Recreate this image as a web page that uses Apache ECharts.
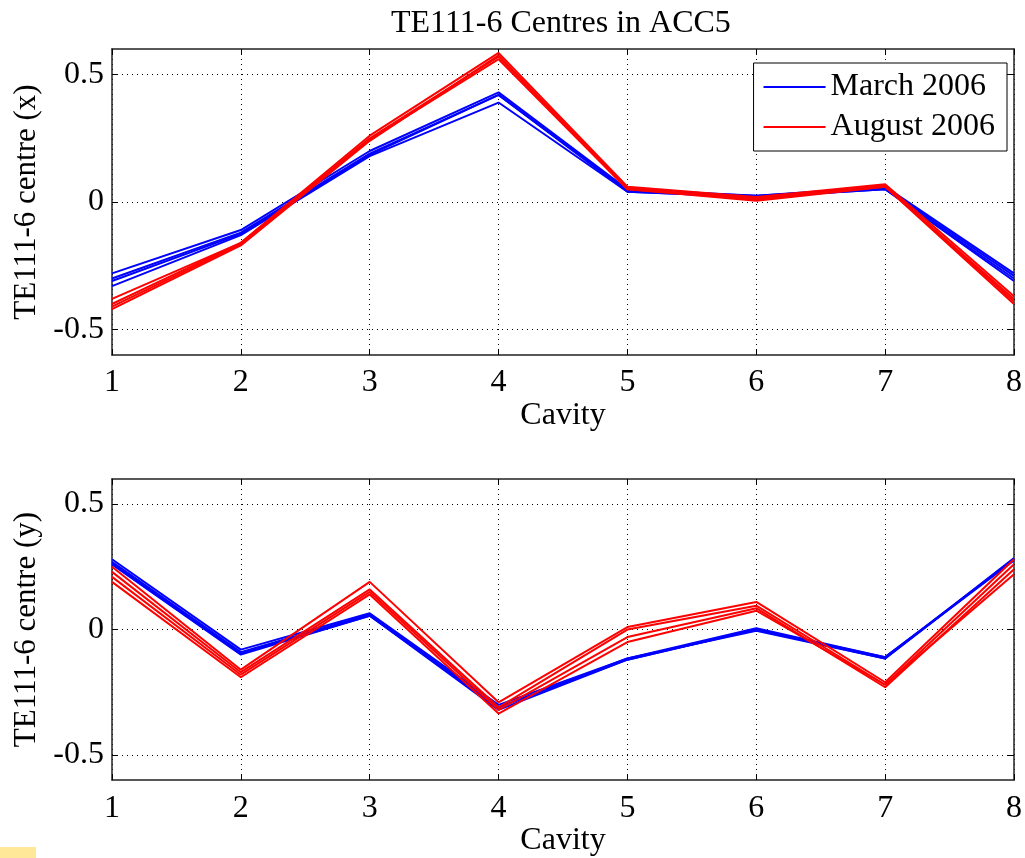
<!DOCTYPE html>
<html>
<head>
<meta charset="utf-8">
<style>
  html, body { margin: 0; padding: 0; background: #fff; }
  #chart-container { width: 1025px; height: 858px; }
</style>
<script src="https://cdn.jsdelivr.net/npm/echarts@6/dist/echarts.min.js"></script>
</head>
<body>
<div id="chart-container"></div>
<script>
// cavity numbers
const cavities = [1, 2, 3, 4, 5, 6, 7, 8];

// TE111-6 centre (x), one array per measurement
const marchX1 = [-0.28, -0.11, 0.20, 0.43, 0.05, 0.025, 0.06, -0.28];
const marchX2 = [-0.30, -0.12, 0.19, 0.42, 0.045, 0.025, 0.055, -0.29];
const marchX3 = [-0.31, -0.125, 0.185, 0.42, 0.04, 0.02, 0.05, -0.30];
const marchX4 = [-0.33, -0.13, 0.18, 0.39, 0.04, 0.02, 0.05, -0.31];
const augustX1 = [-0.38, -0.16, 0.26, 0.585, 0.06, 0.02, 0.07, -0.37];
const augustX2 = [-0.40, -0.16, 0.25, 0.57, 0.055, 0.01, 0.065, -0.39];
const augustX3 = [-0.41, -0.165, 0.245, 0.56, 0.05, 0.005, 0.06, -0.40];
const augustX4 = [-0.42, -0.17, 0.24, 0.575, 0.05, 0.015, 0.06, -0.38];

// TE111-6 centre (y)
const marchY1 = [0.28, -0.08, 0.065, -0.30, -0.115, 0.005, -0.11, 0.28];
const marchY2 = [0.27, -0.09, 0.06, -0.31, -0.12, 0.0, -0.115, 0.285];
const marchY3 = [0.265, -0.095, 0.055, -0.32, -0.12, 0.0, -0.11, 0.275];
const marchY4 = [0.26, -0.10, 0.055, -0.31, -0.115, -0.005, -0.115, 0.28];
const augustY1 = [0.25, -0.16, 0.19, -0.29, 0.01, 0.11, -0.21, 0.28];
const augustY2 = [0.23, -0.17, 0.16, -0.31, 0.0, 0.095, -0.22, 0.26];
const augustY3 = [0.21, -0.18, 0.15, -0.32, -0.03, 0.085, -0.23, 0.24];
const augustY4 = [0.19, -0.19, 0.14, -0.335, -0.05, 0.075, -0.22, 0.22];

const marchName = "March 2006";
const augustName = "August 2006";
const yTicks = [-0.5, 0, 0.5];

var dom = document.getElementById("chart-container");
var myChart = echarts.init(dom, null, { renderer: "canvas" });

const font = "'Liberation Serif', 'DejaVu Serif', serif";
const txt = { fontFamily: font, fontSize: 32, color: "#000" };

const pair = (vals) => cavities.map((c, i) => [c, vals[i]]);

const makeLine = (name, vals, color, idx) => ({
  type: "line",
  name: name,
  xAxisIndex: idx * 2,
  yAxisIndex: idx * 2,
  data: pair(vals),
  symbol: "none",
  lineStyle: { color: color, width: 2 },
  itemStyle: { color: color },
  emphasis: { disabled: true },
  animation: false
});

const bottomAxis = (idx) => ({
  type: "value",
  gridIndex: idx,
  min: 1,
  max: 8,
  interval: 1,
  name: "Cavity",
  nameLocation: "middle",
  nameGap: 44,
  nameTextStyle: txt,
  axisLine: { show: true, onZero: false, lineStyle: { color: "#222", width: 1.5 } },
  axisTick: { show: true, inside: true, length: 6, lineStyle: { color: "#000" } },
  axisLabel: Object.assign({ margin: 12, showMinLabel: true, showMaxLabel: true }, txt),
  splitLine: { show: true, lineStyle: { color: "#000", type: [1, 4], width: 1 } }
});
const topAxis = (idx) => ({
  type: "value",
  gridIndex: idx,
  position: "top",
  min: 1,
  max: 8,
  interval: 1,
  axisLine: { show: true, onZero: false, lineStyle: { color: "#222", width: 1.5 } },
  axisTick: { show: true, inside: true, length: 6, lineStyle: { color: "#000" } },
  axisLabel: { show: false },
  splitLine: { show: false }
});
const leftAxis = (idx, name) => ({
  type: "value",
  gridIndex: idx,
  min: -0.6,
  max: 0.6,
  name: name,
  nameLocation: "middle",
  nameGap: 70,
  nameTextStyle: { fontFamily: font, fontSize: 31, color: "#000" },
  axisLine: { show: true, onZero: false, lineStyle: { color: "#222", width: 1.5 } },
  axisTick: { show: true, inside: true, length: 6, customValues: yTicks, lineStyle: { color: "#000" } },
  axisLabel: Object.assign({
    margin: 8,
    customValues: yTicks,
    formatter: (v) => (v === 0 ? "0" : String(v))
  }, txt),
  splitLine: { show: true, lineStyle: { color: "#000", type: [1, 4], width: 1 } }
});
const rightAxis = (idx) => ({
  type: "value",
  gridIndex: idx,
  position: "right",
  min: -0.6,
  max: 0.6,
  axisLine: { show: true, onZero: false, lineStyle: { color: "#222", width: 1.5 } },
  axisTick: { show: true, inside: true, length: 6, customValues: yTicks, lineStyle: { color: "#000" } },
  axisLabel: { show: false },
  splitLine: { show: false }
});

var option = {
  backgroundColor: "#fff",
  animation: false,
  title: {
    text: "TE111-6 Centres in ACC5",
    left: 386,
    top: 3,
    textStyle: { fontFamily: font, fontSize: 32, fontWeight: "normal", color: "#000" }
  },
  legend: {
    data: [marchName, augustName],
    orient: "vertical",
    right: 18,
    top: 63,
    icon: "rect",
    itemWidth: 62,
    itemHeight: 2,
    itemGap: 8,
    padding: [8, 12, 8, 10],
    borderColor: "#000",
    borderWidth: 1,
    borderRadius: 0,
    backgroundColor: "#fff",
    textStyle: { fontFamily: font, fontSize: 32, color: "#000" }
  },
  grid: [
    { left: 112, right: 8, top: 49, height: 306, show: false },
    { left: 112, right: 8, top: 479, height: 303, show: false }
  ],
  xAxis: [bottomAxis(0), topAxis(0), bottomAxis(1), topAxis(1)],
  yAxis: [
    leftAxis(0, "TE111-6 centre (x)"), rightAxis(0),
    leftAxis(1, "TE111-6 centre (y)"), rightAxis(1)
  ],
  graphic: [
    { type: "rect", left: 0, top: 847, shape: { width: 36, height: 11 }, style: { fill: "#FFE999" } }
  ],
  series: [
    makeLine(marchName, marchX1, "#0000FF", 0),
    makeLine(marchName, marchX2, "#0000FF", 0),
    makeLine(marchName, marchX3, "#0000FF", 0),
    makeLine(marchName, marchX4, "#0000FF", 0),
    makeLine(augustName, augustX1, "#FF0000", 0),
    makeLine(augustName, augustX2, "#FF0000", 0),
    makeLine(augustName, augustX3, "#FF0000", 0),
    makeLine(augustName, augustX4, "#FF0000", 0),
    makeLine(marchName, marchY1, "#0000FF", 1),
    makeLine(marchName, marchY2, "#0000FF", 1),
    makeLine(marchName, marchY3, "#0000FF", 1),
    makeLine(marchName, marchY4, "#0000FF", 1),
    makeLine(augustName, augustY1, "#FF0000", 1),
    makeLine(augustName, augustY2, "#FF0000", 1),
    makeLine(augustName, augustY3, "#FF0000", 1),
    makeLine(augustName, augustY4, "#FF0000", 1)
  ]
};

myChart.setOption(option);
window.addEventListener("resize", myChart.resize);
</script>
</body>
</html>
